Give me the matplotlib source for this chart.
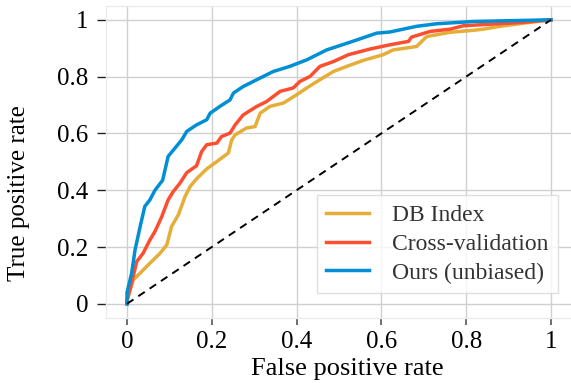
import matplotlib
matplotlib.use("Agg")
import matplotlib.pyplot as plt

plt.rcParams['font.family'] = ['Liberation Serif', 'DejaVu Serif']

# ROC points (fpr, tpr)
db_fpr = [0, 0, 0.007, 0.015, 0.031, 0.054, 0.078, 0.094, 0.105, 0.121, 0.137, 0.149,
          0.164, 0.188, 0.212, 0.239, 0.247, 0.255, 0.282, 0.302, 0.314, 0.337, 0.369,
          0.400, 0.424, 0.455, 0.487, 0.522, 0.557, 0.604, 0.628, 0.683, 0.707, 0.762,
          0.817, 0.840, 0.880, 0.935, 1.0]
db_tpr = [0, 0.007, 0.049, 0.085, 0.108, 0.143, 0.178, 0.208, 0.272, 0.313, 0.378, 0.413,
          0.440, 0.475, 0.501, 0.531, 0.577, 0.595, 0.619, 0.624, 0.671, 0.695, 0.707,
          0.736, 0.760, 0.789, 0.818, 0.838, 0.857, 0.877, 0.894, 0.906, 0.941, 0.956,
          0.963, 0.967, 0.977, 0.988, 1.0]

cv_fpr = [0, 0, 0.007, 0.023, 0.038, 0.054, 0.066, 0.082, 0.097, 0.109, 0.125, 0.141,
          0.164, 0.176, 0.188, 0.212, 0.223, 0.243, 0.255, 0.274, 0.306, 0.329, 0.361,
          0.392, 0.408, 0.432, 0.455, 0.487, 0.522, 0.573, 0.620, 0.664, 0.671, 0.715,
          0.762, 0.793, 0.864, 0.935, 1.0]
cv_tpr = [0, 0.014, 0.049, 0.149, 0.178, 0.225, 0.255, 0.307, 0.366, 0.395, 0.425, 0.462,
          0.486, 0.536, 0.560, 0.566, 0.589, 0.601, 0.630, 0.665, 0.695, 0.712, 0.748,
          0.760, 0.783, 0.801, 0.836, 0.853, 0.877, 0.897, 0.912, 0.924, 0.939, 0.959,
          0.967, 0.979, 0.985, 0.991, 1.0]

ours_fpr = [0, 0, 0.011, 0.019, 0.031, 0.042, 0.054, 0.066, 0.084, 0.097, 0.113, 0.129,
            0.141, 0.164, 0.188, 0.196, 0.219, 0.243, 0.251, 0.274, 0.306, 0.345, 0.384,
            0.424, 0.471, 0.524, 0.589, 0.620, 0.683, 0.730, 0.785, 0.816, 1.0]
ours_tpr = [0, 0.04, 0.108, 0.19, 0.272, 0.343, 0.366, 0.40, 0.435, 0.519, 0.548, 0.577,
            0.607, 0.630, 0.648, 0.671, 0.695, 0.718, 0.742, 0.765, 0.789, 0.818, 0.836,
            0.859, 0.894, 0.920, 0.953, 0.957, 0.977, 0.986, 0.991, 0.994, 1.0]

ticks = [0, 0.2, 0.4, 0.6, 0.8, 1]
tick_labels = ['0', '0.2', '0.4', '0.6', '0.8', '1']

fig = plt.figure(figsize=(5.71, 3.83), dpi=100)
ax = fig.add_axes([0.1853, 0.1697, 0.8168, 0.8157])

ax.plot(db_fpr, db_tpr, color='#e5ae38', lw=2.5, label='DB Index', zorder=3)
ax.plot(cv_fpr, cv_tpr, color='#fc4f30', lw=2.5, label='Cross-validation', zorder=4)
ax.plot(ours_fpr, ours_tpr, color='#008fd5', lw=2.5, label='Ours (unbiased)', zorder=5)
ax.plot([0, 1], [0, 1], color='black', lw=1.4, ls=(0, (4, 3)), zorder=6)

ax.set_xlim(-0.05, 1.05)
ax.set_ylim(-0.05, 1.05)
ax.set_xticks(ticks)
ax.set_xticklabels(tick_labels)
ax.set_yticks(ticks)
ax.set_yticklabels(tick_labels)
ax.grid(True, color='#d0d0d0', lw=1.0, zorder=0)
ax.set_axisbelow(True)
for s in ax.spines.values():
    s.set_color('#ebebeb')
    s.set_linewidth(1.0)
ax.tick_params(axis='y', labelsize=18, length=6.5, width=1, color='#222222', pad=6)
ax.tick_params(axis='x', labelsize=18, length=5, width=1.2, color='#555555', pad=4)

ax.set_xlabel('False positive rate', fontsize=19)
ax.set_ylabel('True positive rate', fontsize=18)
ax.xaxis.set_label_coords(0.517, -0.128)
ax.yaxis.set_label_coords(-0.163, 0.40)

leg = ax.legend(loc='lower right', fontsize=17, frameon=True, fancybox=False,
                handlelength=1.8, handletextpad=1.0, borderpad=0.4, labelspacing=0.3,
                bbox_to_anchor=(0.995, 0.042))
leg.get_frame().set_edgecolor('#d8d8d8')
leg.get_frame().set_linewidth(1.0)
for t in leg.get_texts():
    t.set_color('#333333')

fig.savefig('out.png', dpi=100)
